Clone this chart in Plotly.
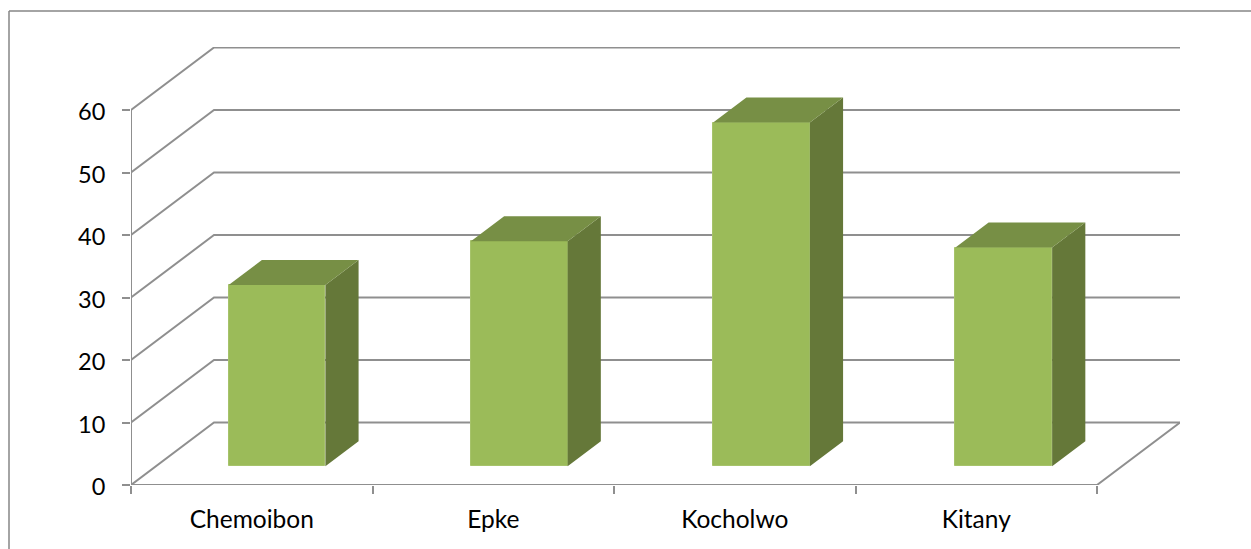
import plotly.graph_objects as go

# ---- data ----
categories = ["Chemoibon", "Epke", "Kocholwo", "Kitany"]
values = [29, 36, 55, 35]
y_ticks = [0, 10, 20, 30, 40, 50, 60]

# ---- pseudo-3D geometry (in axis units) ----
FIG_W, FIG_H = 1251, 549
L, R, T, B = 131, 71, 47, 64
PX_PER_CAT = 241.5
PX_PER_VAL = 6.25
X_MAX = (FIG_W - L - R) / PX_PER_CAT
Y_MAX = (FIG_H - T - B) / PX_PER_VAL
DX = 83 / PX_PER_CAT       # floor depth, horizontal
DY = 62.5 / PX_PER_VAL     # floor depth, vertical
BAR_W = 96.7 / PX_PER_CAT
BAR_PITCH = 242.25 / PX_PER_CAT
BAR_FRONT, BAR_DEPTH = 0.3, 0.4   # share of floor depth
n = len(categories)
base = BAR_FRONT * DY
shift = BAR_FRONT * DX
centers = [(i + 0.5) * BAR_PITCH + shift for i in range(n)]

GRID = "#8F8F8F"
FONT = "Lato"

# walls: left-side diagonals, back wall horizontals, floor edge, axes
wx, wy = [], []
for t in y_ticks:
    wx += [0, DX, X_MAX, None]
    wy += [t, t + DY, t + DY, None]
wx += [0, 0, None, 0, n, X_MAX, None]
wy += [0, y_ticks[-1], None, 0, 0, DY, None]

# bar side and top faces
sx, sy, tx, ty = [], [], [], []
dx, dy = BAR_DEPTH * DX, BAR_DEPTH * DY
for c, v in zip(centers, values):
    x0, x1 = c - BAR_W / 2, c + BAR_W / 2
    top = base + v
    sx += [x1, x1 + dx, x1 + dx, x1, x1, None]
    sy += [base, base + dy, top + dy, top, base, None]
    tx += [x0, x0 + dx, x1 + dx, x1, x0, None]
    ty += [top, top + dy, top + dy, top, top, None]

fig = go.Figure()
fig.add_trace(go.Scatter(x=wx, y=wy, mode="lines", line=dict(color=GRID, width=2),
                         hoverinfo="skip", showlegend=False, xaxis="x", yaxis="y"))
fig.add_trace(go.Bar(x=centers, y=values, base=base, width=BAR_W,
                     marker=dict(color="#9BBB59", line=dict(color="#A6C36B", width=1)),
                     hoverinfo="skip", showlegend=False, xaxis="x2", yaxis="y2"))
fig.add_trace(go.Scatter(x=sx, y=sy, mode="lines", fill="toself", fillcolor="#657839",
                         line=dict(width=0, color="#657839"), hoverinfo="skip",
                         showlegend=False, xaxis="x2", yaxis="y2"))
fig.add_trace(go.Scatter(x=tx, y=ty, mode="lines", fill="toself", fillcolor="#778F45",
                         line=dict(width=0, color="#778F45"), hoverinfo="skip",
                         showlegend=False, xaxis="x2", yaxis="y2"))

fx0 = (9 - L) / (FIG_W - L - R)
fx1 = (FIG_W - L) / (FIG_W - L - R)
fy0 = (FIG_H - B - 11) / (FIG_H - T - B)
fy1 = -B / (FIG_H - T - B)

fig.update_layout(
    width=FIG_W, height=FIG_H, autosize=False,
    margin=dict(l=L, r=R, t=T, b=B, pad=0),
    paper_bgcolor="white", plot_bgcolor="white",
    font=dict(family=FONT, color="black"),
    bargap=0,
    xaxis=dict(range=[0, X_MAX], domain=[0, 1], showgrid=False, zeroline=False, showline=False,
               tickmode="array", tickvals=list(range(n + 1)), ticktext=[""] * (n + 1),
               ticks="outside", ticklen=8, tickwidth=2, tickcolor=GRID),
    yaxis=dict(range=[0, Y_MAX], domain=[0, 1], showgrid=False, zeroline=False, showline=False,
               tickmode="array", tickvals=y_ticks, ticktext=[str(t) for t in y_ticks],
               ticks="outside", ticklen=8, tickwidth=2, tickcolor=GRID,
               ticklabelstandoff=12, ticklabelshift=2,
               tickfont=dict(family=FONT, size=23.5, color="black")),
    xaxis2=dict(range=[0, X_MAX], overlaying="x", anchor="y2", showgrid=False, zeroline=False,
                showline=False, tickmode="array", tickvals=[i + 0.5 for i in range(n)],
                ticktext=categories, ticks="", ticklabelstandoff=17,
                tickfont=dict(family=FONT, size=24.5, color="black")),
    yaxis2=dict(range=[0, Y_MAX], overlaying="y", anchor="x2", showgrid=False, zeroline=False,
                showline=False, showticklabels=False, ticks=""),
    shapes=[dict(type="line", xref="paper", yref="paper", x0=fx0, x1=fx0, y0=fy1, y1=fy0,
                 line=dict(color="#868686", width=1.5)),
            dict(type="line", xref="paper", yref="paper", x0=fx0, x1=fx1, y0=fy0, y1=fy0,
                 line=dict(color="#868686", width=1.5))],
)

fig.write_html("out.html", config={"displayModeBar": False},
               post_script="document.body.style.margin='0';")
